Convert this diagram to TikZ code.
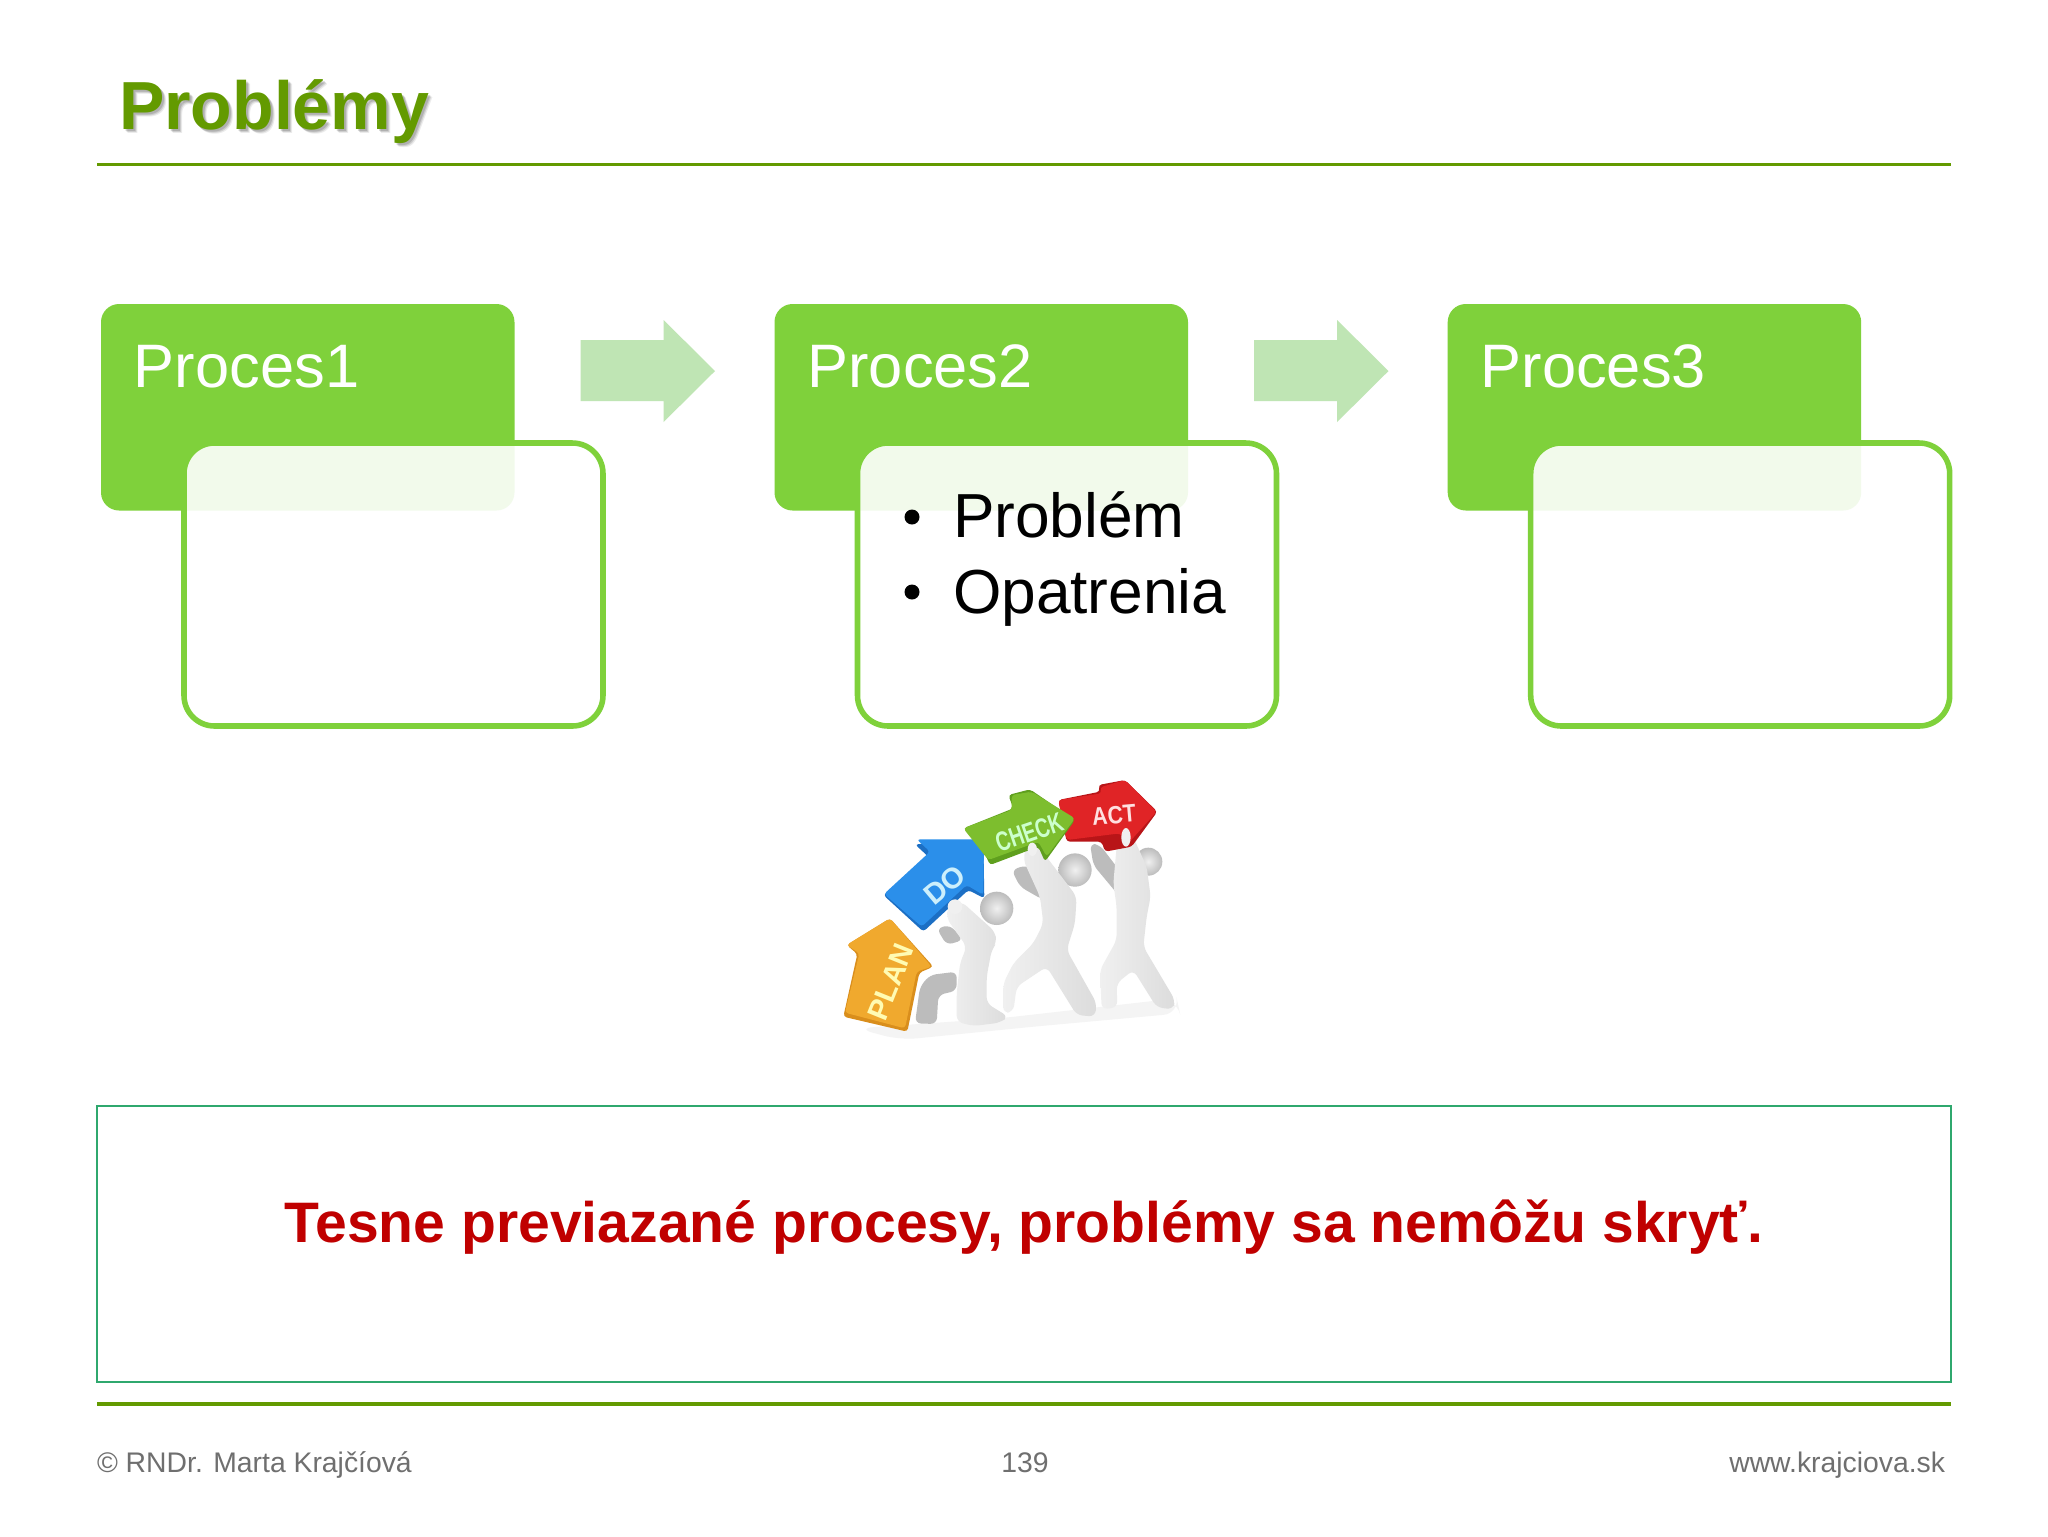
\documentclass[tikz,border=0pt]{standalone}
\usepackage{fontspec}
\setmainfont{Liberation Sans}
\newcommand{\fsz}[1]{\fontsize{#1}{#1}\selectfont}
\definecolor{titlegreen}{HTML}{639A00}
\definecolor{boxgreen}{HTML}{7FD13B}
\definecolor{arrowgreen}{HTML}{BFE5B4}
\definecolor{frameteal}{HTML}{2FA86E}
\definecolor{alertred}{HTML}{C00000}
\definecolor{foot}{HTML}{6F6F6F}
\definecolor{figl}{HTML}{DCDCDC}
\definecolor{figh}{HTML}{F0F0F0}
\definecolor{figd}{HTML}{BCBCBC}
\definecolor{aorange}{HTML}{F0A92E}
\definecolor{aorangeD}{HTML}{D98E1C}
\definecolor{ablue}{HTML}{2B8FEA}
\definecolor{ablueD}{HTML}{1C6FC4}
\definecolor{agreen}{HTML}{7DBE2E}
\definecolor{agreenD}{HTML}{5F9F1E}
\definecolor{ared}{HTML}{E02426}
\definecolor{aredD}{HTML}{B81518}
\tikzset{
  lbl/.style={inner sep=0pt,outer sep=0pt,anchor=base west},
  rulel/.style={draw=titlegreen,line width=1.2pt},
  headbox/.style={fill=boxgreen,rounded corners=6.5pt},
  bodybox/.style={draw=boxgreen,fill=white,fill opacity=.9,draw opacity=1,line width=2pt,rounded corners=11pt},
  flow/.style={fill=arrowgreen},
  figlight/.style={left color=figh,right color=figl,rounded corners=2.2pt},
  figdark/.style={fill=figd,rounded corners=2.2pt},
  headball/.style={inner color=figh,outer color=figd},
  tag/.style={inner sep=0pt},
  blockarrow/.style={rounded corners=1.2pt},
}
\begin{document}
\begin{tikzpicture}[x=0.36pt,y=-0.36pt]
\useasboundingbox (0,0) rectangle (2048,1536);
\fill[white] (0,0) rectangle (2048,1536);
% title
\foreach \o/\a in {4/.08,3/.12,2/.14}{
  \node[lbl,text=black,opacity=\a,font=\bfseries\fsz{24.5pt}] at (119+\o,129+\o) {Problémy};
}
\node[lbl,text=titlegreen,font=\bfseries\fsz{24.5pt}] (title) at (119,129) {Problémy};
\draw[rulel] (97,164.6) -- (1951,164.6);
% process blocks
\foreach \n/\dx in {1/0,2/673.5,3/1346.7}{
  \begin{scope}[xshift=\dx*0.36pt]
    \path[headbox] (101,304) rectangle (514.5,510.5);
    \node[lbl,text=white,font=\fsz{22.1pt}] (proc\n) at (134,387) {Proces\n};
    \path[bodybox] (184,443) rectangle (603,726);
  \end{scope}
}
\foreach \n/\dx in {1/0,2/673.5}{
  \begin{scope}[xshift=\dx*0.36pt]
    \fill[flow] (580.5,340) -- (663.6,340) -- (663.6,320) -- (715,371) -- (663.6,422) -- (663.6,401) -- (580.5,401) -- cycle;
  \end{scope}
}
\node[lbl,font=\fsz{22.4pt}] (p1) at (953,537.5) {Problém};
\node[lbl,font=\fsz{22.4pt}] (p2) at (953,613) {Opatrenia};
\fill (912,517) circle (7.5) coordinate (b1);
\fill (912,592) circle (7.5) coordinate (b2);
% PDCA picture
\begin{scope}[shift={(800,750)},x=0.12pt,y=-0.12pt]
  \fill[black!7,opacity=.6,rounded corners=6pt] (170,835) -- (600,805) -- (1130,745) -- (1140,790) -- (700,830) -- (300,870) -- cycle;
  % person 3
  \path[figdark] (870,280) -- (900,285) -- (965,370) -- (955,435) -- (880,345) -- cycle;
  \shade[headball] (1045,335) circle (42);
  \path[figlight] (960,235) -- (990,240) -- (1040,350) -- (1052,440) -- (1040,500) -- (1030,590) -- (1125,750) -- (1120,778) -- (1070,772) -- (1000,660) -- (950,700) -- (952,772) -- (905,778) -- (900,660) -- (950,570) -- (950,470) -- (940,400) -- (950,290) -- cycle;
  % person 2
  \path[figdark] (635,360) -- (680,345) -- (745,400) -- (730,450) -- (660,410) -- cycle;
  \shade[headball] (825,360) circle (50);
  \path[figlight] (680,280) -- (720,295) -- (800,400) -- (830,440) -- (825,520) -- (800,600) -- (890,760) -- (885,800) -- (830,795) -- (740,650) -- (650,710) -- (640,785) -- (610,790) -- (610,700) -- (640,640) -- (700,580) -- (730,520) -- (720,440) -- (670,330) -- cycle;
  % person 1
  \path[figdark] (470,665) -- (390,675) -- (360,710) -- (345,820) -- (410,822) -- (415,735) -- (470,722) -- cycle;
  \path[figdark] (410,535) -- (450,525) -- (490,570) -- (440,585) -- cycle;
  \shade[headball] (590,475) circle (50);
  \path[figlight] (445,465) -- (485,455) -- (585,545) -- (590,578) -- (575,600) -- (560,680) -- (560,760) -- (625,800) -- (600,818) -- (520,828) -- (470,815) -- (470,730) -- (480,640) -- (500,590) -- (440,505) -- cycle;
  % arrows
  \path[blockarrow,fill=aorangeD] (270,505) -- (400,650) -- (358,668) -- (322,845) -- (130,800) -- (172,612) -- (140,585) -- cycle;
  \path[blockarrow,fill=aorange] (270,505) -- (395,650) -- (350,665) -- (315,835) -- (135,788) -- (178,610) -- (140,585) -- cycle;
  \path[blockarrow,fill=ablueD] (345,283) -- (550,268) -- (553,445) -- (505,420) -- (370,545) -- (250,435) -- (385,320) -- cycle;
  \path[blockarrow,fill=ablue] (350,268) -- (552,268) -- (550,435) -- (500,405) -- (365,530) -- (252,432) -- (390,305) -- cycle;
  \path[blockarrow,fill=aredD] (775,150) -- (900,125) -- (895,105) -- (975,90) -- (1072,185) -- (995,290) -- (915,305) -- (905,275) -- (800,275) -- cycle;
  \path[blockarrow,fill=ared] (775,150) -- (905,130) -- (900,112) -- (975,90) -- (1070,185) -- (985,280) -- (960,250) -- (800,270) -- cycle;
  \path[blockarrow,fill=agreenD] (490,235) -- (640,175) -- (625,135) -- (690,118) -- (825,210) -- (735,335) -- (715,290) -- (570,345) -- (545,290) -- cycle;
  \path[blockarrow,fill=agreen] (490,235) -- (635,180) -- (635,135) -- (695,125) -- (825,205) -- (740,320) -- (715,275) -- (565,330) -- cycle;
  \node[tag,rotate=68,text=yellow!30!white,font=\bfseries\fsz{10.5pt}] (plan) at (272,695) {PLAN};
  \node[tag,rotate=40,text=cyan!20!white,font=\bfseries\fsz{10.5pt}] (do) at (433,405) {DO};
  \node[tag,rotate=19,xscale=.72,text=green!20!white,font=\bfseries\fsz{9.8pt}] (check) at (688,247) {CHECK};
  \node[tag,rotate=5,xscale=.85,text=red!12!white,font=\bfseries\fsz{9pt}] (act) at (942,195) {ACT};
  % hands
  \fill[figh] (465,470) circle (22);
  \fill[figh] (697,298) ellipse (14 and 20);
  \fill[figh] (978,262) ellipse (14 and 28);
\end{scope}
% message frame
\draw[draw=frameteal,line width=.8pt] (97,1106) rectangle (1951,1382);
\node[lbl,anchor=base,text=alertred,font=\bfseries\fsz{20.55pt}] (msg) at (1024,1242) {Tesne previazané procesy, problémy sa nemôžu skryť.};
\draw[rulel] (97,1404) -- (1951,1404);
% footer
\node[lbl,text=foot,font=\fsz{10.2pt}] (f1) at (97,1472) {© RNDr. Marta Krajčíová};
\node[lbl,anchor=base,text=foot,font=\fsz{10.2pt}] (f2) at (1025,1472) {139};
\node[lbl,anchor=base east,text=foot,font=\fsz{10.2pt}] (f3) at (1945,1472) {www.krajciova.sk};
\end{tikzpicture}
\end{document}
